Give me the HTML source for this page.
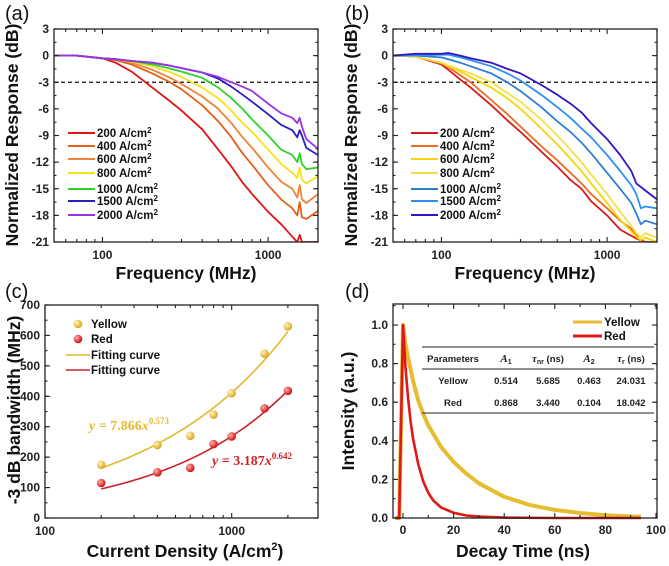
<!DOCTYPE html>
<html><head><meta charset="utf-8">
<style>
html,body{margin:0;padding:0;background:#fff;}
svg{display:block;font-family:"Liberation Sans",Arial,sans-serif;}
.tk{font-size:12px;font-weight:bold;fill:#222;}
.at{font-size:17.5px;font-weight:bold;fill:#111;}
.pl{font-size:20px;fill:#111;}
.lg{font-size:11.5px;font-weight:bold;fill:#111;}
</style></head>
<body>
<svg id="fig" width="669" height="566" viewBox="0 0 669 566"></svg>
<script>
// ---------- Panel (a) data ----------
const freqA = [50,70,100,120,150,200,250,300,400,500,600,700,800,1000,1200,1400,1500,1550,1600,1700,2000];
const labelsA = ["200 A/cm","400 A/cm","600 A/cm","800 A/cm","1000 A/cm","1500 A/cm","2000 A/cm"];
const colorsA = ["#e01414","#e2601c","#f08434","#f6e21a","#2fd22a","#2a1fc0","#9a32e6"];
const a200 = [0,0,-0.3,-0.8,-1.8,-3.6,-5.0,-6.2,-8.3,-10.6,-12.5,-14.3,-15.6,-17.6,-19.0,-20.4,-21,-20.2,-21,-21,-21];
const a400 = [0,0,-0.3,-0.5,-1.0,-2.0,-2.9,-3.8,-5.6,-7.4,-9.2,-11.0,-12.3,-14.6,-16.2,-17.2,-18.0,-16.5,-18.2,-18.4,-17.5];
const a600 = [0,0,-0.3,-0.4,-0.8,-1.6,-2.4,-3.2,-4.6,-6.0,-7.6,-9.2,-10.4,-12.6,-14.2,-15.0,-16.0,-14.6,-16.2,-16.6,-15.6];
const a800 = [0,0,-0.3,-0.4,-0.7,-1.2,-1.8,-2.4,-3.6,-4.8,-6.2,-7.6,-8.6,-10.6,-12.2,-13.2,-13.8,-12.6,-14.0,-14.4,-13.6];
const a1000 = [0,0,-0.3,-0.4,-0.6,-1.0,-1.4,-1.8,-2.5,-3.6,-4.8,-6.0,-7.2,-9.0,-10.6,-11.2,-12.0,-11.0,-12.2,-12.8,-12.6];
const a1500 = [0,0,-0.3,-0.4,-0.6,-0.8,-1.1,-1.4,-1.9,-2.6,-3.5,-4.4,-5.2,-6.6,-7.8,-8.4,-9.2,-8.4,-9.0,-10.4,-11.2];
const a2000 = [0,0,-0.3,-0.4,-0.6,-0.8,-1.1,-1.4,-1.9,-2.4,-3.0,-3.5,-4.0,-5.4,-6.5,-7.0,-7.6,-7.0,-8.0,-9.4,-10.5];
// ---------- Panel (b) data ----------
const freqB = [50,70,100,110,130,150,200,250,300,400,500,600,700,800,1000,1200,1400,1500,1600,1700,2000];
const colorsB = ["#d41c1c","#ee6a22","#f8d40a","#f5e044","#2e7ed2","#2e90f0","#3514c2"];
const b200 = [0,-0.1,-1.0,-1.6,-2.7,-3.6,-5.6,-7.3,-8.6,-10.8,-12.5,-14.0,-15.0,-16.4,-18.0,-19.6,-20.3,-20.6,-20.8,-21,-21];
const b400 = [0,-0.1,-0.9,-1.3,-2.2,-3.0,-5.0,-6.6,-8.0,-10.2,-11.8,-13.2,-14.4,-15.6,-17.2,-18.6,-19.5,-20.2,-21,-21,-21];
const b600 = [0,-0.1,-0.8,-1.2,-1.8,-2.4,-3.6,-4.8,-6.0,-8.2,-10.0,-11.6,-13.0,-14.4,-16.6,-18.5,-19.8,-20.4,-20.8,-20.5,-21];
const b800 = [0,-0.1,-0.8,-1.1,-1.6,-2.0,-3.0,-4.2,-5.2,-7.2,-9.0,-10.6,-12.0,-13.4,-15.6,-17.6,-19.2,-20.0,-20.5,-20.0,-20.5];
const b1000 = [0,0,-0.2,-0.4,-0.8,-1.2,-2.0,-3.0,-4.0,-5.8,-7.4,-8.6,-9.8,-11.0,-13.2,-15.0,-16.6,-17.8,-19.0,-18.6,-19.0];
const b1500 = [0,0,0.1,0.1,-0.2,-0.5,-1.2,-2.0,-2.8,-4.4,-5.8,-7.0,-8.2,-9.2,-11.2,-13.0,-14.6,-15.6,-17.2,-17.0,-17.2];
const b2000 = [0,0.2,0.2,0.3,0,-0.3,-0.8,-1.5,-2.0,-3.3,-4.4,-5.4,-6.4,-7.6,-9.4,-11.2,-13.0,-14.4,-14.8,-15.2,-16.2];
// ---------- Panel (c) data ----------
const densC = [200,400,600,800,1000,1500,2000];
const yellowBW = [175,240,270,340,410,540,630];
const redBW = [115,150,165,243,268,360,418];
const fitYellow = [7.866,0.573];
const fitRed = [3.187,0.642];
// ---------- Panel (d) data ----------
const tYellow = [-3,-1.5,0,1,2,4,6,8,10,15,20,25,30,40,50,60,70,80,94];
const iYellow = [0,0,1.0,0.9,0.83,0.71,0.61,0.54,0.48,0.37,0.29,0.23,0.18,0.11,0.068,0.042,0.026,0.014,0.006];
const tRed = [-3,-1.5,0,1,2,3,4,6,8,10,12,15,20,25,30,40,60,94];
const iRed = [0,0,1.0,0.78,0.62,0.5,0.41,0.28,0.19,0.13,0.09,0.055,0.027,0.013,0.007,0.002,0,0];

const NS="http://www.w3.org/2000/svg";
const fig=document.getElementById('fig');
function el(tag,attrs,parent,text){const e=document.createElementNS(NS,tag);for(const k in attrs)e.setAttribute(k,attrs[k]);if(text!==undefined)e.textContent=text;(parent||fig).appendChild(e);return e;}
function logScale(d0,d1,r0,r1){const l0=Math.log10(d0),l1=Math.log10(d1);return v=>r0+(Math.log10(v)-l0)/(l1-l0)*(r1-r0);}
function linScale(d0,d1,r0,r1){return v=>r0+(v-d0)/(d1-d0)*(r1-r0);}
function pathFrom(xs,ys,sx,sy){return xs.map((x,i)=>(i?'L':'M')+sx(x).toFixed(1)+','+sy(ys[i]).toFixed(1)).join(' ');}

function frame(g,x0,y0,x1,y1){
  const r=el('rect',{x:x0,y:y0,width:x1-x0,height:y1-y0,fill:'none',stroke:'#222','stroke-width':1.3},g);
  
  
}
function tick(g,x1,y1,x2,y2){el('line',{x1,y1,x2,y2,stroke:'#222','stroke-width':1.1},g);}

function logXAxis(g,sx,x0,x1,y0,y1,dmin,dmax,labels){
  for(let dec=10;dec<=10000;dec*=10){for(let m=1;m<10;m++){const v=dec*m;if(v<dmin||v>dmax)continue;const x=sx(v);const L=m===1?5:3;tick(g,x,y1,x,y1-L);tick(g,x,y0,x,y0+L);}}
  labels.forEach(v=>{const t=el('text',{x:sx(v),y:y1+17,'text-anchor':'middle',class:'tk'},g,String(v));});
}
function linYAxis(g,sy,x0,x1,vals,minorStep,fmt,vmin,vmax){
  for(let v=vmin;v<=vmax+1e-9;v+=minorStep){const y=sy(v);tick(g,x0,y,x0+2.5,y);tick(g,x1,y,x1-2.5,y);}
  vals.forEach(v=>{const y=sy(v);tick(g,x0,y,x0+5,y);tick(g,x1,y,x1-5,y);const t=el('text',{x:x0-5,y:y+4,'text-anchor':'end',class:'tk'},g,fmt(v));});
}

// ---------- response panels ----------
function responsePanel(name,px0,freqs,series,colors,labels,lgx,plabel,plx){
  const g=el('g',{});
  
  
  const x0=px0,x1=px0+264,y0=29,y1=242;
  const sx=logScale(51,2000,x0,x1), sy=linScale(3,-21,y0,y1);
  const clip=el('clipPath',{id:'clip'+name},g);el('rect',{x:x0,y:y0,width:x1-x0,height:y1-y0},clip);
  const dash=el('line',{x1:x0,x2:x1,y1:sy(-3),y2:sy(-3),stroke:'#111','stroke-width':1.3,'stroke-dasharray':'4,3'},g);
  
  
  series.forEach((s,i)=>{const p=el('path',{d:pathFrom(freqs,s,sx,sy),fill:'none',stroke:colors[i],'stroke-width':1.8,'stroke-linejoin':'round','clip-path':'url(#clip'+name+')'},g);
    
    });
  frame(g,x0,y0,x1,y1);
  logXAxis(g,sx,x0,x1,y0,y1,51,2000,[100,1000]);
  linYAxis(g,sy,x0,x1,[3,0,-3,-6,-9,-12,-15,-18,-21],1.5,v=>String(v),-21,3);
  const lys=[133,146,159,173,189,201,215];
  labels.forEach((l,i)=>{const lg=el('g',{},g);
    el('line',{x1:lgx,x2:lgx+27,y1:lys[i],y2:lys[i],stroke:colors[i],'stroke-width':2},lg);
    const t=el('text',{x:lgx+29,y:lys[i]+4,class:'lg'},lg,l);el('tspan',{dy:-4,'font-size':'8px'},t,'2');});
  const yt=el('text',{x:0,y:0,transform:'translate('+(x0-36)+',135) rotate(-90)','text-anchor':'middle',class:'at'},g,'Normalized Response (dB)');
  
  const xt=el('text',{x:(x0+x1)/2,y:279,'text-anchor':'middle',class:'at'},g,'Frequency (MHz)');
  
  const pt=el('text',{x:plx,y:20,class:'pl'},g,plabel);
  
}
responsePanel('panel-a',54,freqA,[a200,a400,a600,a800,a1000,a1500,a2000],colorsA,labelsA,68,'(a)',5);
responsePanel('panel-b',393,freqB,[b200,b400,b600,b800,b1000,b1500,b2000],colorsB,labelsA,411,'(b)',345);

// ---------- panel c ----------
(function(){
  const g=el('g',{});
  
  
  const x0=45,x1=318,y0=305,y1=518;
  const sx=logScale(100,2900,x0,x1), sy=linScale(0,700,y1,y0);
  const grad=el('radialGradient',{id:'gy',cx:'35%',cy:'35%',r:'65%'},g);
  el('stop',{offset:'0','stop-color':'#fff4c0'},grad);el('stop',{offset:'1','stop-color':'#dca820'},grad);
  const grad2=el('radialGradient',{id:'gr',cx:'35%',cy:'35%',r:'65%'},g);
  el('stop',{offset:'0','stop-color':'#ffb0b0'},grad2);el('stop',{offset:'1','stop-color':'#d01010'},grad2);
  const fx=[];for(let v=200;v<=2000;v*=1.05)fx.push(v);fx.push(2000);
  const fy=el('path',{d:pathFrom(fx,fx.map(v=>fitYellow[0]*Math.pow(v,fitYellow[1])),sx,sy),fill:'none',stroke:'#e2b82a','stroke-width':1.6},g);
  
  const fr=el('path',{d:pathFrom(fx,fx.map(v=>fitRed[0]*Math.pow(v,fitRed[1])),sx,sy),fill:'none',stroke:'#c8222a','stroke-width':1.6},g);
  
  densC.forEach((d,i)=>{
    const c1=el('circle',{cx:sx(d),cy:sy(yellowBW[i]),r:4.3,fill:'url(#gy)'},g);
    
    const c2=el('circle',{cx:sx(d),cy:sy(redBW[i]),r:4.3,fill:'url(#gr)'},g);
    
  });
  frame(g,x0,y0,x1,y1);
  logXAxis(g,sx,x0,x1,y0,y1,100,2900,[100,1000]);
  linYAxis(g,sy,x0,x1,[0,100,200,300,400,500,600,700],50,v=>String(v),0,700);
  const lg=el('g',{},g);
  el('circle',{cx:78,cy:324,r:4.3,fill:'url(#gy)'},lg);el('text',{x:91,y:328,class:'lg','font-size':'12.5px'},lg,'Yellow');
  el('circle',{cx:78,cy:339,r:4.3,fill:'url(#gr)'},lg);el('text',{x:91,y:343,class:'lg','font-size':'12.5px'},lg,'Red');
  el('line',{x1:66,x2:90,y1:355,y2:355,stroke:'#e2b82a','stroke-width':1.6},lg);el('text',{x:91,y:359,class:'lg','font-size':'12.5px'},lg,'Fitting curve');
  el('line',{x1:66,x2:90,y1:370,y2:370,stroke:'#c8222a','stroke-width':1.6},lg);el('text',{x:91,y:374,class:'lg','font-size':'12.5px'},lg,'Fitting curve');
  const e1=el('text',{x:89,y:430,'font-family':'Liberation Serif,serif','font-size':'14px','font-weight':'bold',fill:'#e8b830'},g);
  el('tspan',{'font-style':'italic'},e1,'y');el('tspan',{},e1,' = 7.866');el('tspan',{'font-style':'italic'},e1,'x');el('tspan',{dy:-6,'font-size':'9px'},e1,'0.573');
  
  const e2=el('text',{x:212,y:465,'font-family':'Liberation Serif,serif','font-size':'14px','font-weight':'bold',fill:'#d42020'},g);
  el('tspan',{'font-style':'italic'},e2,'y');el('tspan',{},e2,' = 3.187');el('tspan',{'font-style':'italic'},e2,'x');el('tspan',{dy:-6,'font-size':'9px'},e2,'0.642');
  
  const yt=el('text',{x:0,y:0,transform:'translate(20,410) rotate(-90)','text-anchor':'middle',class:'at'},g,'-3 dB bandwidth (MHz)');
  
  const xt=el('text',{x:185,y:557,'text-anchor':'middle',class:'at'},g,'Current Density (A/cm');
  el('tspan',{dy:-7,'font-size':'11px'},xt,'2');el('tspan',{dy:7},xt,')');
  
  const pt=el('text',{x:5,y:298,class:'pl'},g,'(c)');
})();

// ---------- panel d ----------
(function(){
  const g=el('g',{});
  
  
  const x0=393,x1=657,y0=304,y1=518;
  const sx=linScale(0,100,403,656), sy=linScale(0,1.0,y1,325);
  const py=el('path',{d:pathFrom(tYellow,iYellow,sx,sy),fill:'none',stroke:'#e6bc30','stroke-width':4,'stroke-linejoin':'round'},g);
  
  const pr=el('path',{d:pathFrom(tRed,iRed,sx,sy),fill:'none',stroke:'#e01818','stroke-width':2.6,'stroke-linejoin':'round'},g);
  
  frame(g,x0,y0,x1,y1);
  [0,20,40,60,80,100].forEach(v=>{const x=sx(v);tick(g,x,y1,x,y1-5);tick(g,x,y0,x,y0+5);
    const t=el('text',{x:x,y:y1+16,'text-anchor':'middle',class:'tk'},g,String(v));});
  [10,30,50,70,90].forEach(v=>{const x=sx(v);tick(g,x,y1,x,y1-3);tick(g,x,y0,x,y0+3);});
  linYAxis(g,sy,x0,x1,[0,0.2,0.4,0.6,0.8,1.0],0.1,v=>v.toFixed(1),0,1.1);
  const lg=el('g',{},g);
  el('line',{x1:573,x2:602,y1:322,y2:322,stroke:'#e6bc30','stroke-width':3},lg);el('text',{x:604,y:326,class:'lg','font-size':'12.5px'},lg,'Yellow');
  el('line',{x1:573,x2:602,y1:336,y2:336,stroke:'#e01818','stroke-width':3},lg);el('text',{x:604,y:340,class:'lg','font-size':'12.5px'},lg,'Red');
  const tb=el('g',{},g);
  [347,369,413].forEach(y=>el('line',{x1:422,x2:654,y1:y,y2:y,stroke:'#222','stroke-width':1},tb));
  const cols=[453,506,548,589,631];
  const hdr=['Parameters','A1','τnr (ns)','A2','τr (ns)'];
  const rows=[['Yellow','0.514','5.685','0.463','24.031'],['Red','0.868','3.440','0.104','18.042']];
  hdr.forEach((h,i)=>{const t=el('text',{x:cols[i],y:362,'text-anchor':'middle','font-size':'9.5px','font-weight':'bold',fill:'#222'},tb);
    if(i===0)t.textContent=h;
    else if(i===1||i===3){el('tspan',{'font-style':'italic','font-family':'Liberation Serif,serif','font-size':'11px'},t,'A');el('tspan',{'font-size':'7px',dy:2},t,i===1?'1':'2');}
    else {el('tspan',{'font-family':'Liberation Serif,serif','font-style':'italic','font-size':'11px'},t,'τ');el('tspan',{'font-size':'7px',dy:2},t,i===2?'nr':'r');el('tspan',{dy:-2},t,' (ns)');}});
  rows.forEach((r,j)=>r.forEach((c,i)=>el('text',{x:cols[i],y:384+j*22,'text-anchor':'middle','font-size':'9.5px','font-weight':'bold',fill:'#222'},tb,c)));
  const yt=el('text',{x:0,y:0,transform:'translate(354,411) rotate(-90)','text-anchor':'middle',class:'at'},g,'Intensity (a.u.)');
  
  const xt=el('text',{x:523,y:557,'text-anchor':'middle',class:'at'},g,'Decay Time (ns)');
  
  const pt=el('text',{x:345,y:298,class:'pl'},g,'(d)');
})();
</script>
</body></html>
